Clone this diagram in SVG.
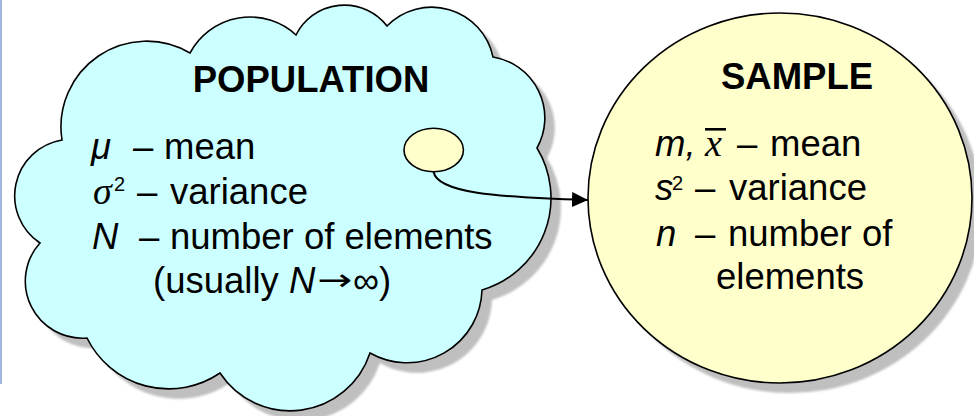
<svg xmlns="http://www.w3.org/2000/svg" xmlns:xlink="http://www.w3.org/1999/xlink" width="974" height="416" viewBox="0 0 974 416">
<defs>
<style>
.t{font-family:"Liberation Sans",Arial,sans-serif;font-size:36.5px;fill:#000}
.b{font-weight:bold}
.i{font-style:italic}
.s{font-family:"Liberation Serif","Times New Roman",serif;font-style:italic;font-size:38px}
.sup{font-size:20px}
.arr{font-family:"DejaVu Sans",sans-serif;font-size:30px}
.out{stroke:#000;stroke-width:1.6}
.shadow{fill:#bfbfbf;filter:url(#blur)}
</style>
<filter id="blur" x="-5%" y="-5%" width="110%" height="110%"><feGaussianBlur stdDeviation="1.2"/></filter>
<marker id="arrow" markerUnits="userSpaceOnUse" viewBox="0 0 16 15" refX="16" refY="7.5" markerWidth="16" markerHeight="15" orient="auto"><path d="M0,0 L16,7.5 L0,15 Z" fill="#000"/></marker>
<path id="cloudShape" d="M62,140 A85.6,85.6 0 0 1 190,53 A68,68 0 0 1 296,35 A54,54 0 0 1 387,26 A62.6,62.6 0 0 1 493,57 A61.7,61.7 0 0 1 537,148 A96,96 0 0 1 482,290 A75,75 0 0 1 370,353 A84,84 0 0 1 220,373 A91,91 0 0 1 87,338 A57,57 0 0 1 40,243 A56.6,56.6 0 0 1 62,140 Z"/>
</defs>
<rect x="0" y="0" width="2" height="384" fill="#9db8dc"/>
<g id="population">
<use xlink:href="#cloudShape" class="shadow" transform="translate(10,10)"/>
<use xlink:href="#cloudShape" fill="#ccffff" class="out"/>
<text class="t b" x="311" y="91.5" text-anchor="middle">POPULATION</text>
<text class="t" y="159"><tspan class="i" x="91">μ</tspan><tspan x="133">–</tspan><tspan x="164">mean</tspan></text>
<text class="t" y="203.5"><tspan class="s" x="93">σ</tspan><tspan class="sup" x="114" y="191">2</tspan><tspan x="137" y="203.5">–</tspan><tspan x="170">variance</tspan></text>
<text class="t" y="248.5"><tspan class="i" x="92">N</tspan><tspan x="139">–</tspan><tspan x="170">number of elements</tspan></text>
<text class="t" x="153" y="293">(usually <tspan class="i">N</tspan></text>
<text class="arr" x="317" y="290" textLength="35" lengthAdjust="spacingAndGlyphs">→</text>
<text class="t" x="353" y="293">∞)</text>
</g>
<g id="sample-subset">
<ellipse cx="433.7" cy="150" rx="29.7" ry="21.7" fill="#ffffcc" class="out"/>
</g>
<g id="sample">
<ellipse cx="790" cy="208" rx="192" ry="185" class="shadow"/>
<ellipse cx="780" cy="198" rx="192" ry="185" fill="#ffffcc" class="out"/>
<text class="t b" x="797" y="88.5" text-anchor="middle">SAMPLE</text>
<text class="t" y="156"><tspan class="i" x="655">m,</tspan><tspan class="s" x="705">x</tspan><tspan x="737">–</tspan><tspan x="770">mean</tspan></text>
<rect x="705" y="128" width="21" height="2.6" fill="#000"/>
<text class="t" y="200"><tspan class="i" x="655">s</tspan><tspan class="sup" x="672" y="190">2</tspan><tspan x="695" y="200">–</tspan><tspan x="729">variance</tspan></text>
<text class="t" y="246"><tspan class="i" x="656">n</tspan><tspan x="695">–</tspan><tspan x="728">number of</tspan></text>
<text class="t" x="716" y="288.5">elements</text>
</g>
<g id="connectors">
<path d="M433.5,171.5 C437,193 495,197 588,200" fill="none" stroke="#000" stroke-width="2" marker-end="url(#arrow)"/>
</g>
</svg>
